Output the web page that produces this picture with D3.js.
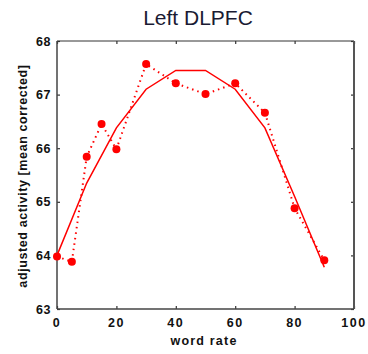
<!DOCTYPE html>
<html>
<head>
<meta charset="utf-8">
<script src="https://d3js.org/d3.v7.min.js"></script>
<style>
  body { margin: 0; background: #fff; }
  text { font-family: "Liberation Sans", Arial, sans-serif; }
</style>
</head>
<body>
<div id="chart"></div>
<script>
// word rate for each measurement
var rates = [0, 5, 10, 15, 20, 30, 40, 50, 60, 70, 80, 90];
// observed activity (dotted line with markers)
var observed = [63.98, 63.88, 65.84, 66.45, 65.98, 67.57, 67.21, 67.01, 67.21, 66.66, 64.88, 63.91];
// fitted curve (solid line)
var fitRates = [0, 10, 20, 30, 40, 50, 60, 70, 80, 90];
var fitted = [64.0, 65.35, 66.38, 67.1, 67.45, 67.45, 67.1, 66.38, 65.1, 63.78];
var xTicks = [0, 20, 40, 60, 80, 100];
var yTicks = [63, 64, 65, 66, 67, 68];

var W = 368, H = 354;
var margin = {top: 41, right: 14, bottom: 45, left: 57};
var width = W - margin.left - margin.right,
    height = H - margin.top - margin.bottom;

var svg = d3.select("#chart").append("svg")
    .attr("width", W)
    .attr("height", H);

// title
svg.append("text")
    .attr("x", 198)
    .attr("y", 25)
    .attr("text-anchor", "middle")
    .style("font-size", "21px")
    .style("fill", "#1a1a33")
    .text("Left DLPFC");

var g = svg.append("g")
    .attr("transform", "translate(" + margin.left + "," + margin.top + ")");

var x = d3.scaleLinear().domain([0, 100]).range([0, width]);
var y = d3.scaleLinear().domain([63, 68]).range([height, 0]);

// inward ticks on all four sides
var tl = 3;
g.append("g").attr("transform", "translate(0," + height + ")")
    .call(d3.axisBottom(x).tickValues(xTicks).tickSizeInner(-tl).tickSizeOuter(0).tickFormat(""));
g.append("g")
    .call(d3.axisTop(x).tickValues(xTicks).tickSizeInner(-tl).tickSizeOuter(0).tickFormat(""));
g.append("g")
    .call(d3.axisLeft(y).tickValues(yTicks).tickSizeInner(-tl).tickSizeOuter(0).tickFormat(""));
g.append("g").attr("transform", "translate(" + width + ",0)")
    .call(d3.axisRight(y).tickValues(yTicks).tickSizeInner(-tl).tickSizeOuter(0).tickFormat(""));
g.selectAll(".domain").remove();
g.selectAll(".tick line").attr("stroke", "#333").attr("stroke-width", 1.2);

// frame
g.append("line").attr("x1", 0).attr("x2", width).attr("y1", 0).attr("y2", 0)
    .attr("stroke", "#333").attr("stroke-width", 1);
g.append("line").attr("x1", width).attr("x2", width).attr("y1", 0).attr("y2", height)
    .attr("stroke", "#555").attr("stroke-width", 2);
g.append("line").attr("x1", 0).attr("x2", width).attr("y1", height).attr("y2", height)
    .attr("stroke", "#444").attr("stroke-width", 1.5);
g.append("line").attr("x1", 0).attr("x2", 0).attr("y1", 0).attr("y2", height)
    .attr("stroke", "#444").attr("stroke-width", 1.5);

// tick labels
g.selectAll(".xl").data(xTicks).enter().append("text")
    .attr("x", function(d) { return x(d); })
    .attr("y", height + 18)
    .attr("text-anchor", "middle")
    .style("font-size", "12.5px")
    .style("font-weight", "bold")
    .style("letter-spacing", "1.5px")
    .style("fill", "#111")
    .text(function(d) { return d; });

g.selectAll(".yl").data(yTicks).enter().append("text")
    .attr("x", -6)
    .attr("y", function(d) { return y(d) + 4.5; })
    .attr("text-anchor", "end")
    .style("font-size", "12.5px")
    .style("font-weight", "bold")
    .style("letter-spacing", "0.5px")
    .style("fill", "#111")
    .text(function(d) { return d; });

// axis labels
svg.append("text")
    .attr("x", 204)
    .attr("y", 345)
    .attr("text-anchor", "middle")
    .style("font-size", "12.5px")
    .style("font-weight", "bold")
    .style("letter-spacing", "1.2px")
    .style("fill", "#111")
    .text("word rate");

svg.append("text")
    .attr("transform", "translate(27,176) rotate(-90)")
    .attr("text-anchor", "middle")
    .style("font-size", "12.5px")
    .style("font-weight", "bold")
    .style("letter-spacing", "0.6px")
    .style("fill", "#111")
    .text("adjusted activity [mean corrected]");

// fitted solid line
var fitLine = d3.line()
    .x(function(d, i) { return x(fitRates[i]); })
    .y(function(d) { return y(d); });
g.append("path")
    .datum(fitted)
    .attr("d", fitLine)
    .attr("fill", "none")
    .attr("stroke", "#ff0000")
    .attr("stroke-width", 1.5);

// observed dotted line
var obsLine = d3.line()
    .x(function(d, i) { return x(rates[i]); })
    .y(function(d) { return y(d); });
g.append("path")
    .datum(observed)
    .attr("d", obsLine)
    .attr("fill", "none")
    .attr("stroke", "#ff0000")
    .attr("stroke-width", 2)
    .attr("stroke-dasharray", "1.5,4");

// markers
g.selectAll(".dot").data(observed).enter().append("circle")
    .attr("cx", function(d, i) { return x(rates[i]); })
    .attr("cy", function(d) { return y(d); })
    .attr("r", 4)
    .attr("fill", "#ff0000");
</script>
</body>
</html>
